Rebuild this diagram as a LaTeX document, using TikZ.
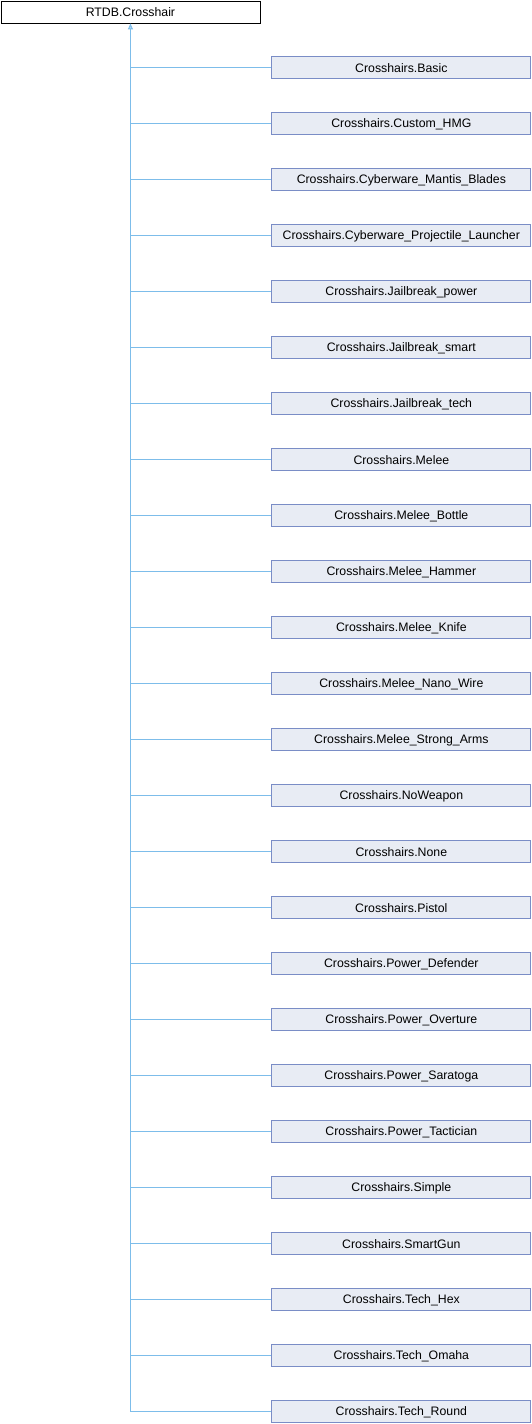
\documentclass[tikz,border=0pt]{standalone}
\usepackage{fontspec}
\setmainfont{Liberation Sans}
\usepackage{tikz}
\usetikzlibrary{positioning, arrows.meta}
\definecolor{clsfill}{HTML}{E8ECF4}
\definecolor{clsdraw}{HTML}{7A8DC6}
\definecolor{inhline}{HTML}{7DBDEA}
\tikzset{
  cblk/.style={draw, align=center, font=\fontsize{12.3pt}{14pt}\selectfont,
               minimum width=259pt, minimum height=22pt, inner sep=0pt, line width=0.9pt},
  cbase/.style={cblk, fill=white, draw=black},
  cchild/.style={cblk, fill=clsfill, draw=clsdraw},
  cinh/.style={draw=inhline, line width=1pt},
  carr/.style={cinh, {Triangle[open, length=6pt, width=5pt, fill=inhline!60]}-},
}
\begin{document}
\begin{tikzpicture}[node distance=33.1pt]
        \useasboundingbox (0,0) rectangle (532pt,-1424pt);
        \node[cbase, anchor=north west] (a) at (0.5pt,-0.5pt) {RTDB.Crosshair};
        \node[cchild, below right=33pt and 11pt of a.south east, anchor=north west] (b1) {Crosshairs.Basic};
        \node[cchild, below=of b1] (b2) {Crosshairs.Custom\_HMG};
        \node[cchild, below=of b2] (b3) {Crosshairs.Cyberware\_Mantis\_Blades};
        \node[cchild, below=of b3] (b4) {Crosshairs.Cyberware\_Projectile\_Launcher};
        \node[cchild, below=of b4] (b5) {Crosshairs.Jailbreak\_power};
        \node[cchild, below=of b5] (b6) {Crosshairs.Jailbreak\_smart};
        \node[cchild, below=of b6] (b7) {Crosshairs.Jailbreak\_tech};
        \node[cchild, below=of b7] (b8) {Crosshairs.Melee};
        \node[cchild, below=of b8] (b9) {Crosshairs.Melee\_Bottle};
        \node[cchild, below=of b9] (b10) {Crosshairs.Melee\_Hammer};
        \node[cchild, below=of b10] (b11) {Crosshairs.Melee\_Knife};
        \node[cchild, below=of b11] (b12) {Crosshairs.Melee\_Nano\_Wire};
        \node[cchild, below=of b12] (b13) {Crosshairs.Melee\_Strong\_Arms};
        \node[cchild, below=of b13] (b14) {Crosshairs.NoWeapon};
        \node[cchild, below=of b14] (b15) {Crosshairs.None};
        \node[cchild, below=of b15] (b16) {Crosshairs.Pistol};
        \node[cchild, below=of b16] (b17) {Crosshairs.Power\_Defender};
        \node[cchild, below=of b17] (b18) {Crosshairs.Power\_Overture};
        \node[cchild, below=of b18] (b19) {Crosshairs.Power\_Saratoga};
        \node[cchild, below=of b19] (b20) {Crosshairs.Power\_Tactician};
        \node[cchild, below=of b20] (b21) {Crosshairs.Simple};
        \node[cchild, below=of b21] (b22) {Crosshairs.SmartGun};
        \node[cchild, below=of b22] (b23) {Crosshairs.Tech\_Hex};
        \node[cchild, below=of b23] (b24) {Crosshairs.Tech\_Omaha};
        \node[cchild, below=of b24] (b25) {Crosshairs.Tech\_Round};
        \draw[carr] (a.south) |- (b25.west);
        \foreach \i in {1,...,24}
          \draw[cinh] (a.south |- b\i.west) -- (b\i.west);
      \end{tikzpicture}
\end{document}
